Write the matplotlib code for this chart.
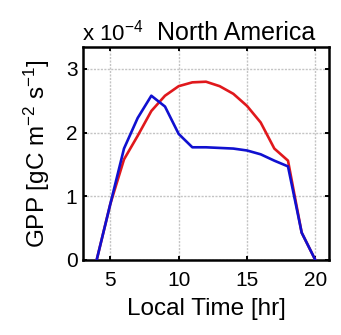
import matplotlib
matplotlib.use("Agg")
import matplotlib.pyplot as plt

hours = [4, 5, 6, 7, 8, 9, 10, 11, 12, 13, 14, 15, 16, 17, 18, 19, 20]
gpp_red = [0, 0.88, 1.58, 1.95, 2.34, 2.58, 2.73, 2.79, 2.80, 2.73, 2.61, 2.42, 2.16, 1.75, 1.56, 0.43, 0]
gpp_blue = [0, 0.88, 1.75, 2.23, 2.58, 2.41, 1.98, 1.77, 1.77, 1.76, 1.75, 1.72, 1.66, 1.56, 1.47, 0.43, 0]
xticks = [5, 10, 15, 20]
yticks = [0, 1, 2, 3]

plt.rcParams['font.family'] = ['Liberation Sans', 'DejaVu Sans']
plt.rcParams['mathtext.fontset'] = 'custom'
plt.rcParams['mathtext.rm'] = 'Liberation Sans'
plt.rcParams['mathtext.it'] = 'Liberation Sans:italic'

fig = plt.figure(figsize=(3.41, 3.35), dpi=100)
ax = fig.add_axes([0.2434, 0.2239, 0.9648 - 0.2434, 0.8606 - 0.2239])

ax.plot(hours, gpp_red, color='#e0181c', lw=1.9, zorder=3)
ax.plot(hours, gpp_blue, color='#1010d0', lw=1.9, zorder=4)

ax.set_xlim(3, 21)
ax.set_ylim(0, 3.35)
ax.set_xticks(xticks)
ax.set_yticks(yticks)
ax.tick_params(direction='in', top=True, right=True, length=3, width=1.4,
               labelsize=15)
ax.tick_params(axis='x', pad=8)
ax.tick_params(axis='y', pad=4)
for s in ax.spines.values():
    s.set_linewidth(1.8)
ax.grid(True, color='#c4c4c4', linestyle=(0, (1.5, 1)), linewidth=1.0)

ax.set_xlabel('Local Time [hr]', fontsize=17.5, labelpad=6)
ax.set_ylabel(r'GPP [gC m$^{\mathrm{-2}}$ s$^{\mathrm{-1}}$]', fontsize=17.5, labelpad=10)

fig.text(82 / 341, 1 - 40 / 335, r'x 10$^{\mathrm{-4}}$', fontsize=16, ha='left', va='baseline')
fig.text(236 / 341, 1 - 40 / 335, 'North America', fontsize=18, ha='center', va='baseline')

fig.savefig('out.png', dpi=100)
